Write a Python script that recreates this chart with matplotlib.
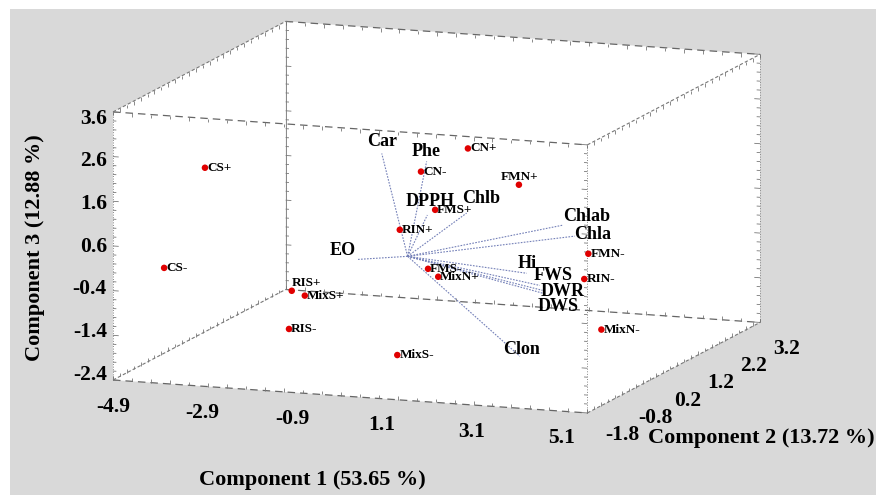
import numpy as np
import matplotlib
matplotlib.use('Agg')
import matplotlib.pyplot as plt
from matplotlib import patches
from mpl_toolkits.mplot3d.art3d import Poly3DCollection, Line3DCollection

plt.rcParams['font.family'] = ['Liberation Serif', 'DejaVu Serif']
plt.rcParams['font.weight'] = 'bold'

# Sample scores (Component 1, 2, 3)
obsNames = ['CS+', 'CS-', 'RIS+', 'MixS+', 'RIS-', 'MixS-', 'RIN+', 'FMS+',
            'CN-', 'CN+', 'FMN+', 'FMS-', 'MixN+', 'FMN-', 'RIN-', 'MixN-']
pc1 = [-4.49, -4.55, -3.17, -3.04, -2.50, 0.22, -0.31, 0.29,
       -0.30, 0.18, 1.91, 0.65, 1.01, 4.32, 4.38, 3.94]
pc2 = [0.3, -0.8, 1.0, 1.2, 0.0, -0.6, 0.2, 0.4,
       0.8, 1.5, 0.6, -0.3, -0.5, -0.7, -0.9, 0.2]
pc3 = [1.53, -0.27, -1.41, -1.59, -1.81, -1.95, 0.49, 0.90,
       1.55, 1.82, 1.50, -0.11, -0.18, 0.66, 0.18, -1.43]

# Variable loadings (scaled)
varNames = ['Car', 'Phe', 'DPPH', 'Chlb', 'Chlab', 'Chla', 'EO', 'Hi', 'FWS', 'DWR', 'DWS', 'Clon']
load1 = [-0.69, 0.11, -0.02, 0.88, 3.05, 3.38, -0.84, 2.44, 2.86, 2.99, 3.03, 2.66]
load2 = [0.2, 0.4, 0.6, 0.5, 0.3, 0.2, -0.3, 0.1, -0.1, -0.2, -0.25, -0.4]
load3 = [2.17, 1.97, 0.68, 0.83, 0.80, 0.62, -0.01, -0.24, -0.40, -0.46, -0.50, -1.88]

xTicks = [-4.9, -2.9, -0.9, 1.1, 3.1, 5.1]
yTicks = [-1.8, -0.8, 0.2, 1.2, 2.2, 3.2]
zTicks = [3.6, 2.6, 1.6, 0.6, -0.4, -1.4, -2.4]

# label offsets in pixels (right, up)
varLabelOffset = {'Car': (0, 12), 'Phe': (0, 10), 'DPPH': (3, 14), 'Chlb': (15, 15),
                  'Chlab': (24, 9), 'Chla': (18, 2), 'EO': (-15, 9), 'Hi': (0, 10),
                  'FWS': (13, 10), 'DWR': (20, -1), 'DWS': (15, -13), 'Clon': (2, 7)}
obsLabelOffset = {'RIS+': (0, 8, 'left'), 'FMN+': (1, 8, 'center')}

W, H = 876, 495
fig = plt.figure(figsize=(W / 100, H / 100), dpi=100, facecolor='white')
fig.patches.append(patches.Rectangle((10 / W, 0), 1 - 10 / W, 1 - 9 / H, transform=fig.transFigure,
                                     facecolor='#d9d9d9', edgecolor='none', zorder=-10))

ax = fig.add_axes([(W - H) / 2 / W, 0, H / W, 1], projection='3d', proj_type='ortho')
ax.view_init(elev=11, azim=-70)
ax.set_box_aspect((1, 1, 0.541))
x0, x1 = xTicks[0], xTicks[-1]
y0, y1 = yTicks[0], yTicks[-1]
z0, z1 = zTicks[-1], zTicks[0]
ax.set_xlim(x0, x1)
ax.set_ylim(y0, y1)
ax.set_zlim(z0, z1)
ax.set_axis_off()
ax.set_facecolor('none')
ax.computed_zorder = False

# white back faces of the box
faces = [[(x0, y1, z0), (x1, y1, z0), (x1, y1, z1), (x0, y1, z1)],
         [(x0, y0, z0), (x0, y1, z0), (x0, y1, z1), (x0, y0, z1)],
         [(x0, y0, z0), (x1, y0, z0), (x1, y1, z0), (x0, y1, z0)]]
ax.add_collection3d(Poly3DCollection(faces, facecolor='white', edgecolor='none', zorder=0))

# box edges
for yy in (y0, y1):
    for zz in (z0, z1):
        ax.plot([x0, x1], [yy, yy], [zz, zz], color='#666666', lw=0.9, ls=(0, (6, 4)), zorder=1)
for xx in (x0, x1):
    for zz in (z0, z1):
        ax.plot([xx, xx], [y0, y1], [zz, zz], color='#777777', lw=0.8, ls=(0, (3, 2)), zorder=1)
for xx in (x0, x1):
    for yy in (y0, y1):
        ax.plot([xx, xx], [yy, yy], [z0, z1], color='#888888', lw=0.7,
                ls='-' if (xx, yy) == (x0, y1) else ':', zorder=1)

# small tick marks along the edges
segs = []
for v in np.arange(z0, z1 + 1e-6, 0.2):
    ln = 0.12 if np.isclose((v - z0) % 1.0, 0) or np.isclose((v - z0) % 1.0, 1.0) else 0.07
    for yy in (y0, y1):
        segs.append([(x0, yy, v), (x0 + ln, yy, v)])
        segs.append([(x1, yy, v), (x1 - ln, yy, v)])
for v in np.arange(x0, x1 + 1e-6, 0.4):
    for yy in (y0, y1):
        segs.append([(v, yy, z0), (v, yy, z0 + 0.08)])
        segs.append([(v, yy, z1), (v, yy, z1 - 0.08)])
for v in np.arange(y0, y1 + 1e-6, 0.2):
    for xx in (x0, x1):
        segs.append([(xx, v, z0), (xx, v, z0 + 0.08)])
        segs.append([(xx, v, z1), (xx, v, z1 - 0.08)])
ax.add_collection3d(Line3DCollection(segs, colors='#777777', linewidths=0.6, zorder=1))

# loading vectors
for i in range(len(varNames)):
    ax.plot([0, load1[i]], [0, load2[i]], [0, load3[i]], color='#7480b8', lw=0.8, ls=(0, (1.5, 1.2)), zorder=2)

# sample points
ax.scatter(pc1, pc2, pc3, c='#e00000', s=22, edgecolors='none', depthshade=False, zorder=5)

# fit the projected box onto the wanted pixel corners
fig.canvas.draw()

def toPixels(p):
    M = ax.get_proj()
    v = M @ np.array([p[0], p[1], p[2], 1.0])
    return ax.transData.transform((v[0] / v[3], v[1] / v[3]))

bb = ax.get_window_extent()
pa = (toPixels((x0, y0, z0)) - [bb.x0, bb.y0]) / bb.width
pb = (toPixels((x1, y1, z1)) - [bb.x0, bb.y0]) / bb.width
ta = (113, H - 380)
tb = (760, H - 52)
side = (tb[0] - ta[0]) / (pb[0] - pa[0])
left = ta[0] - side * pa[0]
bottom = ta[1] - side * pa[1]
ax.set_position([left / W, bottom / H, side / W, side / H])

# texts as plain figure texts at the projected positions
def label(p, s, dx=0, dy=0, **kw):
    px, py = toPixels(p)
    fig.text((px + dx) / W, (py + dy) / H, s, **kw)

for i in range(len(varNames)):
    dx, dy = varLabelOffset[varNames[i]]
    label((load1[i], load2[i], load3[i]), varNames[i], dx, dy, fontsize=13, ha='center', va='center')
for i in range(len(obsNames)):
    dx, dy, ha = obsLabelOffset.get(obsNames[i], (2, 0, 'left'))
    label((pc1[i], pc2[i], pc3[i]), obsNames[i], dx, dy, fontsize=9.5, ha=ha, va='center')

for v in zTicks:
    label((x0 - 0.13, y0, 0.955 * v), '%.1f' % v, fontsize=15.5, ha='right', va='center')
for v in xTicks:
    label((x0 + (v - x0) * 0.945, y0, z0 - 0.6), '%.1f' % v, fontsize=15.5, ha='center', va='center')
for v in yTicks:
    label((x1 + 0.74, y0 + (v - y0) * 0.95, z0 - 0.44), '%.1f' % v, fontsize=15.5, ha='center', va='center')

fig.text(312 / W, 1 - 480 / H, 'Component 1 (53.65 %)', fontsize=16, ha='center', va='center')
fig.text(648 / W, 1 - 438 / H, 'Component 2 (13.72 %)', fontsize=16, ha='left', va='center')
fig.text(35 / W, 1 - 248 / H, 'Component 3 (12.88 %)', fontsize=16, ha='center', va='center', rotation=90)

fig.savefig('out.png', dpi=100, facecolor=fig.get_facecolor())
